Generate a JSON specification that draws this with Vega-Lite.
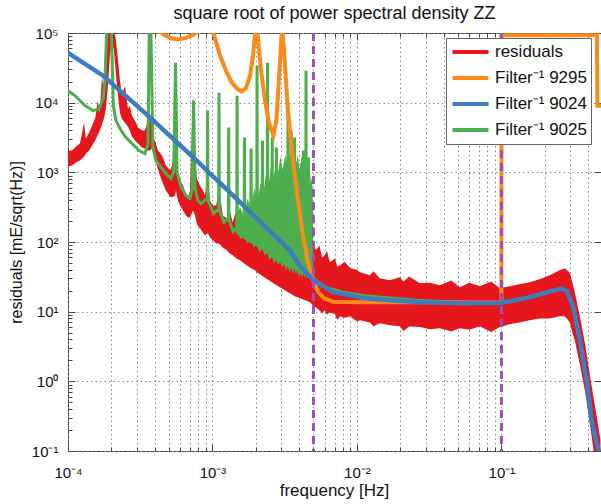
{
"$schema": "https://vega.github.io/schema/vega-lite/v6.json",
"width": 533, "height": 418,
"autosize": {"type": "none"},
"padding": {"left": 68, "top": 33, "right": 0, "bottom": 53},
"background": "white",
"title": {"text": "square root of power spectral density ZZ", "fontSize": 18, "font": "Liberation Sans", "fontWeight": "normal", "color": "#111", "anchor": "middle", "baseline": "alphabetic", "offset": 8, "dy": 19, "frame": "group"},
"config": {"view": {"stroke": "#444", "strokeWidth": 1}, "font": "Liberation Sans"},
"datasets": {
"red": [
{"f":1.0e-4,"lo":1210,"hi":2050},{"f":1.066e-4,"lo":1250,"hi":2050},{"f":1.136e-4,"lo":1380,"hi":2340},{"f":1.21e-4,"lo":1480,"hi":2590},{"f":1.29e-4,"lo":1680,"hi":5160},{"f":1.33e-4,"lo":1860,"hi":3050},{"f":1.40e-4,"lo":2050,"hi":3720},{"f":1.47e-4,"lo":2420,"hi":4700},{"f":1.54e-4,"lo":2860,"hi":5900},{"f":1.61e-4,"lo":3480,"hi":10700},{"f":1.66e-4,"lo":3970,"hi":7190},{"f":1.72e-4,"lo":4840,"hi":24400},{"f":1.77e-4,"lo":5900,"hi":13900},{"f":1.83e-4,"lo":8200,"hi":28700},{"f":1.89e-4,"lo":17500,"hi":110000},{"f":1.95e-4,"lo":47100,"hi":110000},{"f":2.01e-4,"lo":77000,"hi":110000},{"f":2.08e-4,"lo":56000,"hi":110000},{"f":2.15e-4,"lo":24400,"hi":77000},{"f":2.22e-4,"lo":12600,"hi":40000},{"f":2.29e-4,"lo":7190,"hi":20700},{"f":2.36e-4,"lo":5900,"hi":12600},{"f":2.48e-4,"lo":5160,"hi":17500},{"f":2.60e-4,"lo":4530,"hi":8200},{"f":2.68e-4,"lo":3970,"hi":9060},{"f":2.77e-4,"lo":3260,"hi":6500},{"f":2.91e-4,"lo":2860,"hi":5500},{"f":3.05e-4,"lo":2590,"hi":4400},{"f":3.15e-4,"lo":2420,"hi":4240},{"f":3.25e-4,"lo":2270,"hi":3970},{"f":3.41e-4,"lo":2190,"hi":3970},{"f":3.58e-4,"lo":2050,"hi":5500},{"f":3.69e-4,"lo":2050,"hi":6500},{"f":3.81e-4,"lo":2190,"hi":4240},{"f":3.93e-4,"lo":1740,"hi":3050},{"f":4.06e-4,"lo":1380,"hi":2590},{"f":4.19e-4,"lo":1130,"hi":2050},{"f":4.33e-4,"lo":900,"hi":1920},{"f":4.54e-4,"lo":692,"hi":1630},{"f":4.76e-4,"lo":548,"hi":1250},{"f":5.08e-4,"lo":450,"hi":1060},{"f":5.25e-4,"lo":436,"hi":1250},{"f":5.50e-4,"lo":465,"hi":2190},{"f":5.59e-4,"lo":548,"hi":1920},{"f":5.77e-4,"lo":394,"hi":900},{"f":5.96e-4,"lo":334,"hi":764},{"f":6.25e-4,"lo":284,"hi":647},{"f":6.56e-4,"lo":240,"hi":497},{"f":6.77e-4,"lo":225,"hi":436},{"f":6.99e-4,"lo":225,"hi":548},{"f":7.33e-4,"lo":284,"hi":12600},{"f":7.57e-4,"lo":240,"hi":2050},{"f":7.81e-4,"lo":179,"hi":815},{"f":8.19e-4,"lo":157,"hi":647},{"f":8.59e-4,"lo":137,"hi":548},{"f":8.87e-4,"lo":124,"hi":465},{"f":9.31e-4,"lo":133,"hi":900},{"f":9.61e-4,"lo":116,"hi":394},{"f":1.01e-3,"lo":105,"hi":334},{"f":1.06e-3,"lo":95.5,"hi":334},{"f":1.11e-3,"lo":95.5,"hi":548},{"f":1.18e-3,"lo":83.7,"hi":240},{"f":1.26e-3,"lo":75.9,"hi":218},{"f":1.29e-3,"lo":71,"hi":334},{"f":1.38e-3,"lo":64.3,"hi":191},{"f":1.47e-3,"lo":58.2,"hi":303},{"f":1.55e-3,"lo":54.5,"hi":157},{"f":1.66e-3,"lo":49.3,"hi":204},{"f":1.76e-3,"lo":44.7,"hi":133},{"f":1.85e-3,"lo":41.9,"hi":173},{"f":1.97e-3,"lo":39.2,"hi":113},{"f":2.03e-3,"lo":36.7,"hi":265},{"f":2.13e-3,"lo":34.4,"hi":300},{"f":2.23e-3,"lo":32.2,"hi":89.4},{"f":2.40e-3,"lo":29.1,"hi":137},{"f":2.58e-3,"lo":26.4,"hi":89.4},{"f":2.78e-3,"lo":23.9,"hi":105},{"f":2.93e-3,"lo":22.4,"hi":75.9},{"f":3.17e-3,"lo":20.3,"hi":75.9},{"f":3.43e-3,"lo":18.4,"hi":58.2},{"f":3.72e-3,"lo":16.6,"hi":54.5},{"f":4.04e-3,"lo":15.6,"hi":49.3},{"f":4.38e-3,"lo":14.6,"hi":41.9},{"f":4.73e-3,"lo":13.6,"hi":36.7},{"f":4.89e-3,"lo":12.8,"hi":46.2},{"f":4.96e-3,"lo":11.9,"hi":105},{"f":5.20e-3,"lo":11.6,"hi":75.9},{"f":5.49e-3,"lo":10.5,"hi":89.4},{"f":5.75e-3,"lo":9.5,"hi":60},{"f":5.98e-3,"lo":10.5,"hi":64.3},{"f":6.2e-3,"lo":9.0,"hi":75},{"f":6.49e-3,"lo":9.8,"hi":51},{"f":7.05e-3,"lo":9.2,"hi":58.2},{"f":7.3e-3,"lo":7.6,"hi":45},{"f":7.66e-3,"lo":8.6,"hi":46.2},{"f":8.2e-3,"lo":8.2,"hi":52},{"f":9.0e-3,"lo":8.6,"hi":41.9},{"f":1.0e-2,"lo":7.2,"hi":40},{"f":1.05e-2,"lo":7.5,"hi":36.7},{"f":1.23e-2,"lo":7.0,"hi":33.2},{"f":1.3e-2,"lo":6.2,"hi":38},{"f":1.44e-2,"lo":6.8,"hi":30.1},{"f":1.69e-2,"lo":6.4,"hi":28.2},{"f":1.98e-2,"lo":6.2,"hi":31.1},{"f":2.1e-2,"lo":5.3,"hi":27},{"f":2.3e-2,"lo":6.1,"hi":32},{"f":2.73e-2,"lo":6.0,"hi":25.5},{"f":3.2e-2,"lo":5.6,"hi":26},{"f":3.75e-2,"lo":5.8,"hi":23.9},{"f":4.5e-2,"lo":5.2,"hi":28},{"f":5.15e-2,"lo":5.8,"hi":22.4},{"f":6.0e-2,"lo":5.5,"hi":26},{"f":7.1e-2,"lo":6.2,"hi":23.1},{"f":8.5e-2,"lo":5.1,"hi":27},{"f":9.74e-2,"lo":6.0,"hi":21.6},{"f":0.114,"lo":6.6,"hi":23.1},{"f":0.133,"lo":7.0,"hi":24.7},{"f":0.157,"lo":7.5,"hi":26.4},{"f":0.184,"lo":8.0,"hi":29.1},{"f":0.216,"lo":8.0,"hi":33.2},{"f":0.253,"lo":8.6,"hi":39.2},{"f":0.275,"lo":8.6,"hi":41.9},{"f":0.298,"lo":7.0,"hi":36},{"f":0.31,"lo":5.0,"hi":26},{"f":0.322,"lo":3.9,"hi":19.0},{"f":0.349,"lo":1.76,"hi":8.6},{"f":0.382,"lo":0.656,"hi":3.19},{"f":0.415,"lo":0.2,"hi":1.04},{"f":0.449,"lo":0.063,"hi":0.387},{"f":0.485,"lo":0.028,"hi":0.144}
],
"gfill": [
{"f":1.45e-3,"lo":135,"hi":200},{"f":1.55e-3,"lo":120,"hi":320},{"f":1.65e-3,"lo":110,"hi":230},{"f":1.75e-3,"lo":102,"hi":420},{"f":1.85e-3,"lo":96,"hi":300},{"f":1.95e-3,"lo":90,"hi":600},{"f":2.05e-3,"lo":86,"hi":380},{"f":2.15e-3,"lo":80,"hi":700},{"f":2.25e-3,"lo":76,"hi":500},{"f":2.35e-3,"lo":70,"hi":950},{"f":2.45e-3,"lo":64,"hi":650},{"f":2.55e-3,"lo":60,"hi":1300},{"f":2.65e-3,"lo":57,"hi":800},{"f":2.75e-3,"lo":54,"hi":1500},{"f":2.85e-3,"lo":52,"hi":1000},{"f":2.95e-3,"lo":50,"hi":1700},{"f":3.05e-3,"lo":48,"hi":1100},{"f":3.2e-3,"lo":46,"hi":1800},{"f":3.3e-3,"lo":45,"hi":1200},{"f":3.45e-3,"lo":43,"hi":1900},{"f":3.55e-3,"lo":42,"hi":1300},{"f":3.65e-3,"lo":41,"hi":2000},{"f":3.75e-3,"lo":40,"hi":1200},{"f":3.9e-3,"lo":39,"hi":1800},{"f":4.0e-3,"lo":38,"hi":1100},{"f":4.15e-3,"lo":37,"hi":1700},{"f":4.3e-3,"lo":36,"hi":1000},{"f":4.45e-3,"lo":35,"hi":1500},{"f":4.55e-3,"lo":34.5,"hi":900},{"f":4.7e-3,"lo":33.5,"hi":1200},{"f":4.8e-3,"lo":33,"hi":700},{"f":4.9e-3,"lo":32,"hi":900},{"f":4.97e-3,"lo":31,"hi":250}
],
"green": [
{"series":"Filter⁻¹ 9025","f":1.0e-4,"v":14900},{"series":"Filter⁻¹ 9025","f":1.118e-4,"v":12600},{"series":"Filter⁻¹ 9025","f":1.31e-4,"v":9060},{"series":"Filter⁻¹ 9025","f":1.49e-4,"v":7700},{"series":"Filter⁻¹ 9025","f":1.64e-4,"v":8200},{"series":"Filter⁻¹ 9025","f":1.75e-4,"v":11400},{"series":"Filter⁻¹ 9025","f":1.80e-4,"v":20700},{"series":"Filter⁻¹ 9025","f":1.85e-4,"v":100000},{"series":"Filter⁻¹ 9025","f":1.92e-4,"v":110000},{"series":"Filter⁻¹ 9025","f":2.0e-4,"v":100000},{"series":"Filter⁻¹ 9025","f":2.06e-4,"v":9000},{"series":"Filter⁻¹ 9025","f":2.15e-4,"v":5500},{"series":"Filter⁻¹ 9025","f":2.33e-4,"v":4000},{"series":"Filter⁻¹ 9025","f":2.52e-4,"v":3150},{"series":"Filter⁻¹ 9025","f":2.77e-4,"v":2600},{"series":"Filter⁻¹ 9025","f":3.10e-4,"v":2050},{"series":"Filter⁻¹ 9025","f":3.41e-4,"v":1860},{"series":"Filter⁻¹ 9025","f":3.58e-4,"v":2600},{"series":"Filter⁻¹ 9025","f":3.65e-4,"v":100000},{"series":"Filter⁻¹ 9025","f":3.70e-4,"v":110000},{"series":"Filter⁻¹ 9025","f":3.75e-4,"v":100000},{"series":"Filter⁻¹ 9025","f":3.87e-4,"v":2300},{"series":"Filter⁻¹ 9025","f":4.06e-4,"v":1480},{"series":"Filter⁻¹ 9025","f":4.33e-4,"v":1250},{"series":"Filter⁻¹ 9025","f":4.76e-4,"v":961},{"series":"Filter⁻¹ 9025","f":5.16e-4,"v":815},{"series":"Filter⁻¹ 9025","f":5.39e-4,"v":1000},{"series":"Filter⁻¹ 9025","f":5.55e-4,"v":37400},{"series":"Filter⁻¹ 9025","f":5.69e-4,"v":1000},{"series":"Filter⁻¹ 9025","f":6.06e-4,"v":606},{"series":"Filter⁻¹ 9025","f":6.56e-4,"v":465},{"series":"Filter⁻¹ 9025","f":6.99e-4,"v":421},{"series":"Filter⁻¹ 9025","f":7.25e-4,"v":600},{"series":"Filter⁻¹ 9025","f":7.40e-4,"v":10700},{"series":"Filter⁻¹ 9025","f":7.57e-4,"v":600},{"series":"Filter⁻¹ 9025","f":7.93e-4,"v":394},{"series":"Filter⁻¹ 9025","f":8.33e-4,"v":357},
{"series":"Filter⁻¹ 9025","f":9.20e-4,"v":420},{"series":"Filter⁻¹ 9025","f":9.25e-4,"v":7700},{"series":"Filter⁻¹ 9025","f":9.30e-4,"v":400},{"series":"Filter⁻¹ 9025","f":1.0175e-3,"v":257},
{"series":"Filter⁻¹ 9025","f":1.104e-3,"v":300},{"series":"Filter⁻¹ 9025","f":1.11e-3,"v":13900},{"series":"Filter⁻¹ 9025","f":1.116e-3,"v":290},{"series":"Filter⁻¹ 9025","f":1.2025e-3,"v":191},
{"series":"Filter⁻¹ 9025","f":1.289e-3,"v":220},{"series":"Filter⁻¹ 9025","f":1.295e-3,"v":4400},{"series":"Filter⁻¹ 9025","f":1.301e-3,"v":210},{"series":"Filter⁻¹ 9025","f":1.3875e-3,"v":141},
{"series":"Filter⁻¹ 9025","f":1.473e-3,"v":165},{"series":"Filter⁻¹ 9025","f":1.48e-3,"v":12600},{"series":"Filter⁻¹ 9025","f":1.487e-3,"v":160},{"series":"Filter⁻¹ 9025","f":1.5725e-3,"v":120},
{"series":"Filter⁻¹ 9025","f":1.657e-3,"v":140},{"series":"Filter⁻¹ 9025","f":1.665e-3,"v":3150},{"series":"Filter⁻¹ 9025","f":1.673e-3,"v":135},{"series":"Filter⁻¹ 9025","f":1.7575e-3,"v":105},
{"series":"Filter⁻¹ 9025","f":1.841e-3,"v":120},{"series":"Filter⁻¹ 9025","f":1.85e-3,"v":2190},{"series":"Filter⁻¹ 9025","f":1.859e-3,"v":115},{"series":"Filter⁻¹ 9025","f":1.9425e-3,"v":92},
{"series":"Filter⁻¹ 9025","f":2.025e-3,"v":105},{"series":"Filter⁻¹ 9025","f":2.035e-3,"v":33900},{"series":"Filter⁻¹ 9025","f":2.045e-3,"v":100},{"series":"Filter⁻¹ 9025","f":2.1275e-3,"v":79},
{"series":"Filter⁻¹ 9025","f":2.209e-3,"v":90},{"series":"Filter⁻¹ 9025","f":2.22e-3,"v":2860},{"series":"Filter⁻¹ 9025","f":2.231e-3,"v":88},{"series":"Filter⁻¹ 9025","f":2.3125e-3,"v":71},
{"series":"Filter⁻¹ 9025","f":2.393e-3,"v":82},{"series":"Filter⁻¹ 9025","f":2.405e-3,"v":37400},{"series":"Filter⁻¹ 9025","f":2.417e-3,"v":80},{"series":"Filter⁻¹ 9025","f":2.4975e-3,"v":62},
{"series":"Filter⁻¹ 9025","f":2.577e-3,"v":70},{"series":"Filter⁻¹ 9025","f":2.59e-3,"v":3150},{"series":"Filter⁻¹ 9025","f":2.603e-3,"v":68},{"series":"Filter⁻¹ 9025","f":2.6825e-3,"v":56},
{"series":"Filter⁻¹ 9025","f":2.761e-3,"v":64},{"series":"Filter⁻¹ 9025","f":2.775e-3,"v":2270},{"series":"Filter⁻¹ 9025","f":2.789e-3,"v":62},{"series":"Filter⁻¹ 9025","f":2.8675e-3,"v":53},
{"series":"Filter⁻¹ 9025","f":2.945e-3,"v":60},{"series":"Filter⁻¹ 9025","f":2.96e-3,"v":1060},{"series":"Filter⁻¹ 9025","f":2.975e-3,"v":58},{"series":"Filter⁻¹ 9025","f":3.0525e-3,"v":49.3},
{"series":"Filter⁻¹ 9025","f":3.129e-3,"v":56},{"series":"Filter⁻¹ 9025","f":3.145e-3,"v":764},{"series":"Filter⁻¹ 9025","f":3.161e-3,"v":55},{"series":"Filter⁻¹ 9025","f":3.2375e-3,"v":46.2},
{"series":"Filter⁻¹ 9025","f":3.313e-3,"v":53},{"series":"Filter⁻¹ 9025","f":3.33e-3,"v":6950},{"series":"Filter⁻¹ 9025","f":3.347e-3,"v":52},{"series":"Filter⁻¹ 9025","f":3.4225e-3,"v":43.3},
{"series":"Filter⁻¹ 9025","f":3.497e-3,"v":50},{"series":"Filter⁻¹ 9025","f":3.515e-3,"v":3970},{"series":"Filter⁻¹ 9025","f":3.533e-3,"v":49},{"series":"Filter⁻¹ 9025","f":3.6075e-3,"v":41.9},
{"series":"Filter⁻¹ 9025","f":3.681e-3,"v":48},{"series":"Filter⁻¹ 9025","f":3.70e-3,"v":3150},{"series":"Filter⁻¹ 9025","f":3.719e-3,"v":47},{"series":"Filter⁻¹ 9025","f":3.7925e-3,"v":40.5},
{"series":"Filter⁻¹ 9025","f":3.865e-3,"v":45},{"series":"Filter⁻¹ 9025","f":3.885e-3,"v":900},{"series":"Filter⁻¹ 9025","f":3.905e-3,"v":44},{"series":"Filter⁻¹ 9025","f":3.9775e-3,"v":37.9},
{"series":"Filter⁻¹ 9025","f":4.05e-3,"v":43},{"series":"Filter⁻¹ 9025","f":4.07e-3,"v":1060},{"series":"Filter⁻¹ 9025","f":4.09e-3,"v":42},{"series":"Filter⁻¹ 9025","f":4.1625e-3,"v":36.7},
{"series":"Filter⁻¹ 9025","f":4.234e-3,"v":41},{"series":"Filter⁻¹ 9025","f":4.255e-3,"v":2050},{"series":"Filter⁻¹ 9025","f":4.276e-3,"v":40},{"series":"Filter⁻¹ 9025","f":4.3475e-3,"v":35.5},
{"series":"Filter⁻¹ 9025","f":4.418e-3,"v":39},{"series":"Filter⁻¹ 9025","f":4.44e-3,"v":28700},{"series":"Filter⁻¹ 9025","f":4.462e-3,"v":38},{"series":"Filter⁻¹ 9025","f":4.5325e-3,"v":34.4},
{"series":"Filter⁻¹ 9025","f":4.602e-3,"v":37},{"series":"Filter⁻¹ 9025","f":4.625e-3,"v":1630},{"series":"Filter⁻¹ 9025","f":4.648e-3,"v":36},{"series":"Filter⁻¹ 9025","f":4.7175e-3,"v":33.2},
{"series":"Filter⁻¹ 9025","f":4.786e-3,"v":35},{"series":"Filter⁻¹ 9025","f":4.81e-3,"v":394},{"series":"Filter⁻¹ 9025","f":4.834e-3,"v":34},{"series":"Filter⁻¹ 9025","f":4.9025e-3,"v":32.2},
{"series":"Filter⁻¹ 9025","f":5.0e-3,"v":30.5},{"series":"Filter⁻¹ 9025","f":5.5e-3,"v":25},{"series":"Filter⁻¹ 9025","f":6.0e-3,"v":22.5},{"series":"Filter⁻¹ 9025","f":6.86e-3,"v":20.8},{"series":"Filter⁻¹ 9025","f":8.0e-3,"v":19},{"series":"Filter⁻¹ 9025","f":1.17e-2,"v":16.8},{"series":"Filter⁻¹ 9025","f":2.59e-2,"v":14.6},{"series":"Filter⁻¹ 9025","f":5.16e-2,"v":13.6},{"series":"Filter⁻¹ 9025","f":0.1,"v":13.4}
],
"orange": [
{"series":"Filter⁻¹ 9295","f":3.69e-4,"v":110000},{"series":"Filter⁻¹ 9295","f":4.33e-4,"v":104000},{"series":"Filter⁻¹ 9295","f":4.69e-4,"v":92700},{"series":"Filter⁻¹ 9295","f":5.16e-4,"v":84000},{"series":"Filter⁻¹ 9295","f":5.77e-4,"v":81000},{"series":"Filter⁻¹ 9295","f":6.56e-4,"v":85000},{"series":"Filter⁻¹ 9295","f":7.33e-4,"v":94000},{"series":"Filter⁻¹ 9295","f":7.81e-4,"v":104000},{"series":"Filter⁻¹ 9295","f":8.87e-4,"v":110000},{"series":"Filter⁻¹ 9295","f":1.01e-3,"v":104000},{"series":"Filter⁻¹ 9295","f":1.13e-3,"v":47000},{"series":"Filter⁻¹ 9295","f":1.24e-3,"v":28800},{"series":"Filter⁻¹ 9295","f":1.36e-3,"v":19400},{"series":"Filter⁻¹ 9295","f":1.48e-3,"v":15900},{"series":"Filter⁻¹ 9295","f":1.59e-3,"v":14500},{"series":"Filter⁻¹ 9295","f":1.71e-3,"v":16400},{"series":"Filter⁻¹ 9295","f":1.82e-3,"v":24400},{"series":"Filter⁻¹ 9295","f":1.91e-3,"v":47000},{"series":"Filter⁻¹ 9295","f":1.97e-3,"v":97000},{"series":"Filter⁻¹ 9295","f":2.0e-3,"v":110000},{"series":"Filter⁻¹ 9295","f":2.05e-3,"v":97000},{"series":"Filter⁻¹ 9295","f":2.17e-3,"v":28800},{"series":"Filter⁻¹ 9295","f":2.31e-3,"v":10700},{"series":"Filter⁻¹ 9295","f":2.46e-3,"v":5200},{"series":"Filter⁻¹ 9295","f":2.64e-3,"v":3370},{"series":"Filter⁻¹ 9295","f":2.77e-3,"v":5500},{"series":"Filter⁻¹ 9295","f":2.88e-3,"v":20700},{"series":"Filter⁻¹ 9295","f":3.01e-3,"v":97000},{"series":"Filter⁻¹ 9295","f":3.05e-3,"v":110000},{"series":"Filter⁻¹ 9295","f":3.13e-3,"v":56000},{"series":"Filter⁻¹ 9295","f":3.33e-3,"v":7700},{"series":"Filter⁻¹ 9295","f":3.61e-3,"v":1480},{"series":"Filter⁻¹ 9295","f":3.91e-3,"v":394},{"series":"Filter⁻¹ 9295","f":4.23e-3,"v":124},{"series":"Filter⁻¹ 9295","f":4.58e-3,"v":51},{"series":"Filter⁻¹ 9295","f":4.96e-3,"v":28.2},{"series":"Filter⁻¹ 9295","f":5.37e-3,"v":19.6},{"series":"Filter⁻¹ 9295","f":5.91e-3,"v":15.6},{"series":"Filter⁻¹ 9295","f":6.82e-3,"v":13.9},{"series":"Filter⁻¹ 9295","f":1.05e-2,"v":13.6},{"series":"Filter⁻¹ 9295","f":2.73e-2,"v":13.6},{"series":"Filter⁻¹ 9295","f":7.1e-2,"v":13.5},{"series":"Filter⁻¹ 9295","f":0.1,"v":13.6},{"series":"Filter⁻¹ 9295","f":0.1002,"v":93000},{"series":"Filter⁻¹ 9295","f":0.458,"v":93000},{"series":"Filter⁻¹ 9295","f":0.462,"v":9000},{"series":"Filter⁻¹ 9295","f":0.6,"v":9000}
],
"blue": [
{"series":"Filter⁻¹ 9024","f":1.0e-4,"v":52000},{"series":"Filter⁻¹ 9024","f":1.75e-4,"v":24400},{"series":"Filter⁻¹ 9024","f":3.69e-4,"v":6150},{"series":"Filter⁻¹ 9024","f":7.36e-4,"v":1640},{"series":"Filter⁻¹ 9024","f":1.55e-3,"v":373},{"series":"Filter⁻¹ 9024","f":3.43e-3,"v":75.9},{"series":"Filter⁻¹ 9024","f":4.04e-3,"v":45},{"series":"Filter⁻¹ 9024","f":4.99e-3,"v":28.2},{"series":"Filter⁻¹ 9024","f":6.86e-3,"v":19.1},{"series":"Filter⁻¹ 9024","f":1.17e-2,"v":15.4},{"series":"Filter⁻¹ 9024","f":2.59e-2,"v":13.8},{"series":"Filter⁻¹ 9024","f":5.16e-2,"v":13.2},{"series":"Filter⁻¹ 9024","f":0.1,"v":13.3},{"series":"Filter⁻¹ 9024","f":0.157,"v":16.1},{"series":"Filter⁻¹ 9024","f":0.217,"v":19.6},{"series":"Filter⁻¹ 9024","f":0.261,"v":21.4},{"series":"Filter⁻¹ 9024","f":0.284,"v":19.6},{"series":"Filter⁻¹ 9024","f":0.314,"v":11.7},{"series":"Filter⁻¹ 9024","f":0.349,"v":3.89},{"series":"Filter⁻¹ 9024","f":0.389,"v":1.04},{"series":"Filter⁻¹ 9024","f":0.421,"v":0.278},{"series":"Filter⁻¹ 9024","f":0.456,"v":0.129},{"series":"Filter⁻¹ 9024","f":0.489,"v":0.079}
],
"vlines": [{"f":0.005},{"f":0.1}]
},
"layer": [
{
"data": {"name": "red"},
"mark": {"type": "area", "color": "#e6161d", "clip": true},
"encoding": {
"x": {"field": "f", "type": "quantitative", "scale": {"type": "log", "domain": [0.0001, 0.489], "nice": false},
"axis": {"orient": "bottom", "values": [0.0001, 0.001, 0.01, 0.1], "labelExpr": "datum.value < 0.0005 ? '10⁻⁴' : datum.value < 0.005 ? '10⁻³' : datum.value < 0.05 ? '10⁻²' : '10⁻¹'", "labelFlush": false, "labelAlign": "center", "labelBaseline": "alphabetic", "labelFontSize": 15, "labelFont": "Liberation Sans", "labelColor": "#111", "labelPadding": 33, "tickSize": -7, "tickColor": "#444", "domain": false, "grid": true, "gridDash": [1.5, 3], "gridColor": "#8a8a8a", "title": "frequency [Hz]", "titleFontSize": 17, "titleFont": "Liberation Sans", "titleFontWeight": "normal", "titleColor": "#111", "titleX": 266, "titleY": 44, "titleBaseline": "alphabetic", "titleAlign": "center"}},
"y": {"field": "lo", "type": "quantitative", "scale": {"type": "log", "domain": [0.1, 100000], "nice": false},
"axis": {"orient": "left", "values": [0.1, 1, 10, 100, 1000, 10000, 100000], "labelExpr": "datum.value < 0.5 ? '10⁻¹' : datum.value < 5 ? '10⁰' : datum.value < 50 ? '10¹' : datum.value < 500 ? '10²' : datum.value < 5000 ? '10³' : datum.value < 50000 ? '10⁴' : '10⁵'", "labelFlush": false, "labelAlign": "right", "labelBaseline": "middle", "labelFontSize": 15, "labelFont": "Liberation Sans", "labelColor": "#111", "labelPadding": 17, "tickSize": -7, "tickColor": "#444", "domain": false, "grid": true, "gridDash": [1.5, 3], "gridColor": "#8a8a8a", "title": "residuals [mE/sqrt(Hz)]", "titleFontSize": 16, "titleFont": "Liberation Sans", "titleFontWeight": "normal", "titleColor": "#111", "titleAngle": -90, "titleX": -47, "titleY": 209, "titleAlign": "center", "titleBaseline": "alphabetic"}},
"y2": {"field": "hi"}
}
},
{
"data": {"name": "gfill"},
"mark": {"type": "area", "color": "#4cae4c", "clip": true},
"encoding": {
"x": {"field": "f", "type": "quantitative", "scale": {"type": "log", "domain": [0.0001, 0.489], "nice": false},
"axis": {"orient": "bottom", "values": [0.0002,0.0003,0.0004,0.0005,0.0006,0.0007,0.0008,0.0009,0.002,0.003,0.004,0.005,0.006,0.007,0.008,0.009,0.02,0.03,0.04,0.05,0.06,0.07,0.08,0.09,0.2,0.3,0.4], "labels": false, "tickSize": -4, "tickColor": "#444", "domain": false, "grid": true, "gridDash": [1.5, 3], "gridColor": "#8a8a8a", "title": null}},
"y": {"field": "lo", "type": "quantitative", "scale": {"type": "log", "domain": [0.1, 100000], "nice": false},
"axis": {"orient": "left", "values": [0.2,0.3,0.4,0.5,0.6,0.7,0.8,0.9,2,3,4,5,6,7,8,9,20,30,40,50,60,70,80,90,200,300,400,500,600,700,800,900,2000,3000,4000,5000,6000,7000,8000,9000,20000,30000,40000,50000,60000,70000,80000,90000], "labels": false, "tickSize": -4, "tickColor": "#444", "domain": false, "grid": false, "title": null}},
"y2": {"field": "hi"}
}
},
{
"data": {"name": "green"},
"mark": {"type": "line", "strokeWidth": 3, "clip": true},
"encoding": {
"x": {"field": "f", "type": "quantitative", "scale": {"type": "log", "domain": [0.0001, 0.489], "nice": false},
"axis": {"orient": "top", "values": [0.0001, 0.001, 0.01, 0.1], "labels": false, "tickSize": -7, "tickColor": "#444", "domain": false, "grid": false, "title": null}},
"y": {"field": "v", "type": "quantitative", "scale": {"type": "log", "domain": [0.1, 100000], "nice": false},
"axis": {"orient": "right", "values": [0.1, 1, 10, 100, 1000, 10000, 100000], "labels": false, "tickSize": -7, "tickColor": "#444", "domain": false, "grid": false, "title": null}},
"color": {"field": "series", "type": "nominal", "scale": {"domain": ["residuals", "Filter⁻¹ 9295", "Filter⁻¹ 9024", "Filter⁻¹ 9025"], "range": ["#e6161d", "#fb8a1a", "#3b7dbf", "#4cae4c"]},
"legend": {"orient": "none", "legendX": 378, "legendY": 5, "title": null, "symbolType": "stroke", "symbolSize": 1300, "symbolStrokeWidth": 4, "clipHeight": 20, "labelFontSize": 17, "labelFont": "Liberation Sans", "labelColor": "#111", "strokeColor": "#666", "fillColor": "white", "padding": 4, "rowPadding": 6, "labelOffset": 4, "labelLimit": 300}}
}
},
{
"data": {"name": "orange"},
"mark": {"type": "line", "strokeWidth": 4, "clip": true},
"encoding": {
"x": {"field": "f", "type": "quantitative", "scale": {"type": "log", "domain": [0.0001, 0.489], "nice": false},
"axis": {"orient": "top", "values": [0.0002,0.0003,0.0004,0.0005,0.0006,0.0007,0.0008,0.0009,0.002,0.003,0.004,0.005,0.006,0.007,0.008,0.009,0.02,0.03,0.04,0.05,0.06,0.07,0.08,0.09,0.2,0.3,0.4], "labels": false, "tickSize": -4, "tickColor": "#444", "domain": false, "grid": false, "title": null}},
"y": {"field": "v", "type": "quantitative", "scale": {"type": "log", "domain": [0.1, 100000], "nice": false}, "axis": null},
"color": {"field": "series", "type": "nominal", "scale": {"domain": ["residuals", "Filter⁻¹ 9295", "Filter⁻¹ 9024", "Filter⁻¹ 9025"], "range": ["#e6161d", "#fb8a1a", "#3b7dbf", "#4cae4c"]},
"legend": {"orient": "none", "legendX": 378, "legendY": 5, "title": null, "symbolType": "stroke", "symbolSize": 1300, "symbolStrokeWidth": 4, "clipHeight": 20, "labelFontSize": 17, "labelFont": "Liberation Sans", "labelColor": "#111", "strokeColor": "#666", "fillColor": "white", "padding": 4, "rowPadding": 6, "labelOffset": 4, "labelLimit": 300}}
}
},
{
"data": {"name": "blue"},
"mark": {"type": "line", "strokeWidth": 4.5, "clip": true},
"encoding": {
"x": {"field": "f", "type": "quantitative", "scale": {"type": "log", "domain": [0.0001, 0.489], "nice": false}, "axis": null},
"y": {"field": "v", "type": "quantitative", "scale": {"type": "log", "domain": [0.1, 100000], "nice": false}, "axis": null},
"color": {"field": "series", "type": "nominal", "scale": {"domain": ["residuals", "Filter⁻¹ 9295", "Filter⁻¹ 9024", "Filter⁻¹ 9025"], "range": ["#e6161d", "#fb8a1a", "#3b7dbf", "#4cae4c"]},
"legend": {"orient": "none", "legendX": 378, "legendY": 5, "title": null, "symbolType": "stroke", "symbolSize": 1300, "symbolStrokeWidth": 4, "clipHeight": 20, "labelFontSize": 17, "labelFont": "Liberation Sans", "labelColor": "#111", "strokeColor": "#666", "fillColor": "white", "padding": 4, "rowPadding": 6, "labelOffset": 4, "labelLimit": 300}}
}
},
{
"data": {"name": "vlines"},
"mark": {"type": "rule", "color": "#9b51b4", "strokeWidth": 3, "strokeDash": [8, 5]},
"encoding": {
"x": {"field": "f", "type": "quantitative", "scale": {"type": "log", "domain": [0.0001, 0.489], "nice": false}, "axis": null}
}
}
],
"resolve": {"axis": {"x": "independent", "y": "independent"}}
}
